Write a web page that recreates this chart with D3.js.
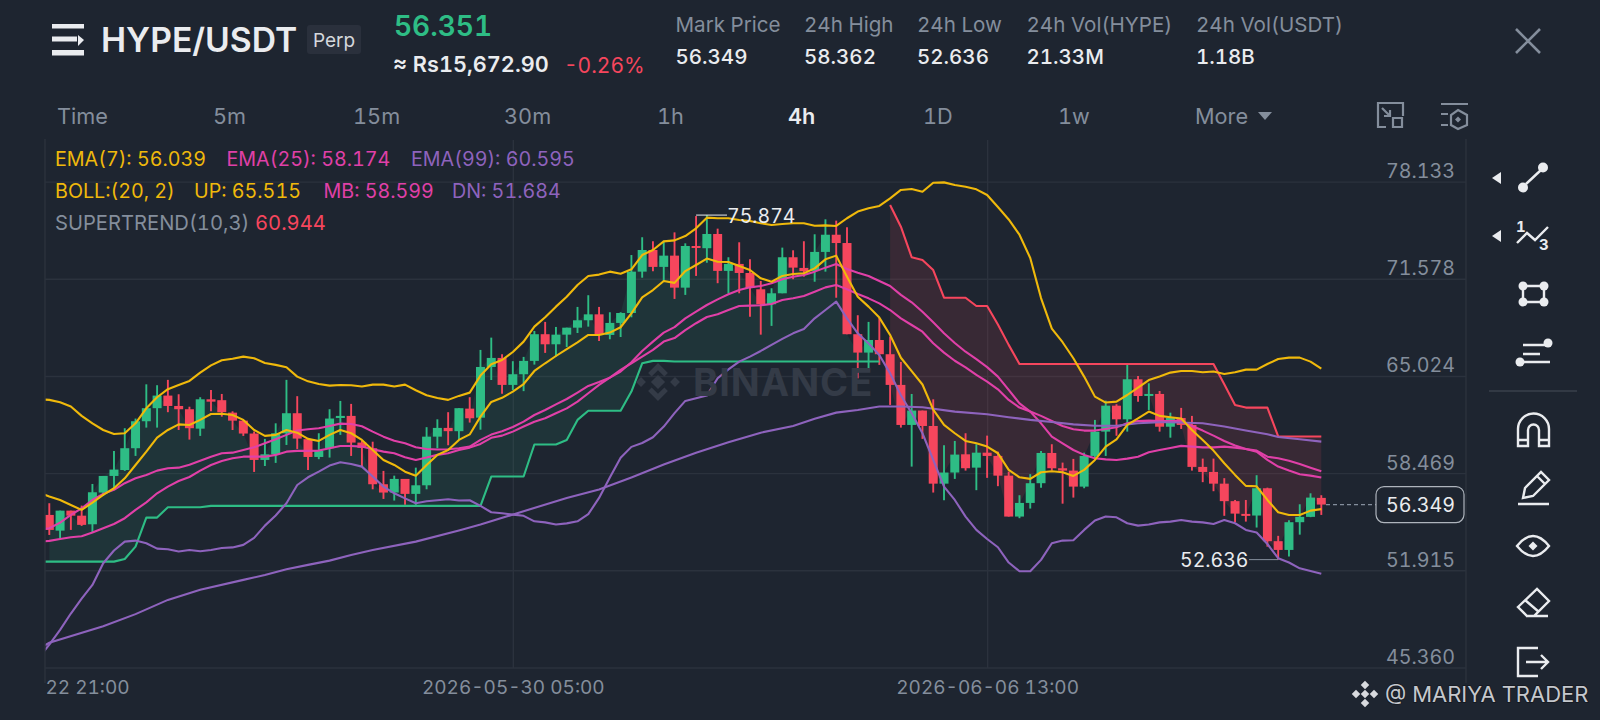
<!DOCTYPE html>
<html>
<head>
<meta charset="utf-8">
<script src="https://cdn.jsdelivr.net/npm/d3@7"></script>
<style>
  html, body { margin: 0; padding: 0; background: #1e2530; overflow: hidden; }
  svg { display: block; }
  text { font-family: "Inter", sans-serif; font-variant-numeric: tabular-nums; }
</style>
</head>
<body>
<div id="chart"></div>
<script>
// Candles, one per 4h bar
var opens = [55.65,54.59,55.94,55.60,55.02,57.16,58.28,58.68,60.15,61.97,
  62.85,63.70,63.00,62.78,61.47,63.45,63.39,62.55,62.01,61.14,
  59.36,59.74,61.16,62.51,60.76,59.56,60.15,62.19,62.33,60.53,
  60.15,57.72,57.16,58.08,57.07,57.65,60.93,61.52,61.30,62.82,
  62.21,65.63,66.24,64.42,65.14,66.04,67.84,67.16,67.81,68.28,
  68.78,69.18,67.79,68.60,69.27,72.06,73.52,72.38,73.14,70.98,
  73.79,73.64,74.60,72.11,72.58,71.97,70.87,69.86,70.60,73.03,
  72.31,72.11,73.39,74.55,73.99,67.84,66.60,67.45,66.49,64.42,
  61.72,62.69,61.65,57.76,58.51,59.74,58.84,59.85,59.63,58.30,
  55.54,56.46,57.79,59.83,58.80,58.64,57.56,59.63,61.27,63.02,
  62.10,64.80,63.70,63.81,61.60,62.19,61.72,58.89,58.55,57.76,
  56.58,55.72,55.61,57.45,53.88,53.29,55.16,55.52,56.80];
var highs = [56.44,55.94,55.94,56.28,57.74,58.28,59.97,61.50,62.15,64.46,
  64.40,64.76,63.79,62.95,63.59,64.08,63.81,62.64,62.06,61.27,
  60.78,61.83,64.76,63.66,60.80,61.16,62.78,63.34,63.14,60.66,
  60.59,58.62,58.30,58.08,58.84,61.57,62.10,62.58,62.85,63.59,
  66.78,67.61,66.49,66.02,66.31,68.06,68.67,68.33,68.28,69.68,
  70.47,69.68,69.32,69.32,73.18,74.38,74.11,74.15,74.71,73.97,
  75.81,75.874,74.96,73.03,74.04,72.89,71.43,70.94,73.68,73.50,
  74.11,74.58,75.59,75.50,75.05,69.12,68.67,68.93,67.67,65.97,
  63.81,62.69,63.45,60.35,60.64,61.16,60.42,61.00,59.92,58.57,
  56.98,58.40,59.97,60.42,59.18,59.43,59.85,62.06,63.36,63.12,
  65.77,65.02,64.53,64.01,62.55,62.87,62.33,59.45,59.45,58.13,
  56.66,56.66,58.33,57.49,54.24,55.30,56.37,57.11,56.98];
var lows = [54.30,54.08,54.64,54.91,54.49,56.93,57.38,58.62,59.63,61.54,
  61.54,62.58,61.38,60.73,60.98,62.64,62.28,61.38,60.98,58.55,
  58.95,59.16,60.37,60.10,58.68,59.41,59.52,61.05,59.63,58.91,
  57.38,56.73,56.62,56.33,56.33,57.38,60.15,60.35,60.71,61.88,
  61.40,64.75,63.83,64.08,64.00,65.79,66.58,66.33,66.98,67.92,
  68.35,67.38,67.50,67.65,68.98,71.65,72.08,71.43,70.22,70.49,
  71.77,72.66,71.28,70.60,70.60,69.02,67.81,68.40,70.60,71.55,
  71.72,71.38,72.06,70.30,67.84,64.86,65.34,65.77,63.07,61.54,
  58.91,60.78,57.16,56.64,58.08,58.64,57.32,58.15,57.59,55.54,
  55.43,56.08,57.49,58.64,56.41,56.82,57.45,59.36,59.63,60.99,
  61.27,63.29,62.73,61.27,60.86,61.45,58.64,57.86,57.25,55.59,
  55.16,55.20,54.80,53.51,52.636,52.84,54.32,55.50,55.65];
var closes = [54.64,55.94,55.60,54.98,57.18,58.28,58.71,60.15,61.97,62.85,
  63.70,63.00,62.78,61.50,63.45,63.29,62.58,62.01,61.14,59.36,
  59.74,61.16,62.51,60.80,59.56,59.99,62.15,62.33,60.53,60.17,
  57.72,57.16,58.08,57.07,57.65,60.93,61.52,61.30,62.85,62.17,
  65.63,66.24,64.42,65.14,66.04,67.84,67.16,67.81,68.28,68.78,
  69.18,67.84,68.60,69.27,72.06,73.52,72.38,73.14,70.98,73.79,
  73.68,74.60,72.11,72.58,71.97,70.96,69.86,70.60,73.03,72.33,
  72.09,73.39,74.55,73.99,67.84,66.60,67.45,66.49,64.42,61.72,
  62.69,61.65,57.76,58.51,59.72,58.80,59.85,59.63,58.30,55.54,
  56.46,57.79,59.83,58.80,58.64,57.56,59.63,61.27,63.02,62.10,
  64.80,63.67,63.81,61.60,62.19,61.72,58.89,58.55,57.76,56.58,
  55.74,55.59,57.45,53.88,53.29,55.16,55.52,56.82,56.349];

// Indicator lines, these start one bar before the first candle
var ema7 = [57.16,
  56.89,56.66,56.32,55.99,56.48,57.00,57.45,58.12,59.02,59.92,
  60.87,61.38,61.76,61.72,62.06,62.46,62.48,62.39,62.06,61.38,
  60.98,61.05,61.38,61.20,60.78,60.64,61.05,61.38,61.16,60.71,
  60.03,59.36,59.02,58.57,58.30,59.02,59.70,60.03,60.71,61.08,
  62.28,63.27,63.55,63.97,64.48,65.36,65.88,66.37,66.84,67.29,
  67.79,67.79,67.95,68.31,69.25,70.33,70.82,71.43,71.30,72.10,
  72.51,72.94,72.73,72.71,72.44,72.17,71.61,71.38,71.77,71.90,
  71.95,72.28,72.89,73.14,71.72,70.37,69.70,68.96,67.79,66.25,
  65.35,64.45,62.75,61.72,61.16,60.64,60.48,60.26,59.81,58.69,
  58.19,58.08,58.53,58.60,58.53,58.28,58.69,59.36,60.26,60.75,
  61.72,62.17,62.62,62.33,62.24,62.15,61.38,60.71,59.99,59.14,
  58.35,57.61,57.58,56.66,55.83,55.65,55.65,55.94,56.04];
var ema25 = [53.85,
  53.90,54.03,54.14,54.21,54.46,54.75,55.04,55.43,55.99,56.50,
  57.11,57.56,57.94,58.21,58.64,59.02,59.29,59.47,59.58,59.58,
  59.58,59.70,59.92,59.97,59.97,59.99,60.15,60.30,60.30,60.26,
  60.08,59.92,59.81,59.54,59.36,59.52,59.70,59.81,60.03,60.19,
  60.44,60.85,61.00,61.27,61.61,61.94,62.17,62.51,62.84,63.29,
  63.86,64.42,64.91,65.43,65.88,66.33,66.78,67.34,67.58,68.12,
  68.58,69.00,69.18,69.47,69.74,69.77,69.79,69.88,70.15,70.26,
  70.42,70.71,71.00,71.16,70.87,70.55,70.26,69.92,69.47,68.91,
  68.46,68.01,67.23,66.60,66.05,65.60,65.09,64.64,64.12,63.41,
  62.89,62.62,62.33,61.99,61.65,61.43,61.34,61.34,61.45,61.56,
  61.83,61.99,62.01,61.99,61.99,62.01,61.65,61.34,61.00,60.64,
  60.33,60.10,59.92,59.36,58.91,58.64,58.39,58.30,58.17];
var mb = [54.64,
  54.75,55.13,55.65,56.10,56.66,57.07,57.34,57.79,58.12,58.35,
  58.64,58.80,58.84,59.04,59.31,59.58,59.81,59.85,60.03,60.21,
  60.48,60.75,61.05,61.34,61.43,61.50,61.65,61.81,61.78,61.63,
  61.27,60.93,60.66,60.48,60.21,60.10,60.06,60.08,60.15,60.26,
  60.71,61.07,61.29,61.58,61.94,62.39,62.73,63.11,63.47,63.90,
  64.35,64.62,64.91,65.32,65.95,66.71,67.34,67.95,68.32,68.91,
  69.36,69.81,70.19,70.53,70.82,71.00,71.09,71.27,71.54,71.72,
  71.83,72.06,72.33,72.58,72.24,71.99,71.77,71.43,71.09,70.49,
  69.99,69.36,68.64,67.90,67.25,66.66,66.16,65.62,64.98,64.08,
  63.18,62.62,61.83,60.93,60.48,60.03,59.70,59.47,59.40,59.36,
  59.45,59.58,59.88,60.03,60.17,60.31,60.26,60.21,60.21,60.26,
  60.19,60.10,59.99,59.58,59.47,59.31,59.09,58.84,58.60];
var bollUp = [63.45,
  63.41,63.25,62.96,62.33,61.83,61.38,61.11,61.16,61.83,62.84,
  63.59,64.13,64.42,64.69,65.25,65.74,66.08,66.19,66.33,66.22,
  65.90,65.77,65.61,64.98,64.66,64.48,64.37,64.41,64.40,64.31,
  64.44,64.44,64.31,64.44,64.06,63.72,63.54,63.41,63.68,63.90,
  65.05,65.81,66.10,66.64,67.34,68.35,68.98,69.70,70.37,71.16,
  71.77,71.86,72.06,71.92,72.22,73.18,73.52,74.10,74.17,74.46,
  74.98,75.70,75.66,75.66,75.54,75.48,75.32,75.21,75.27,75.32,
  75.32,75.16,75.18,75.14,75.66,76.11,76.33,76.49,77.00,77.57,
  77.63,77.45,78.06,78.08,77.90,77.79,77.61,77.23,76.42,75.58,
  74.55,72.98,70.28,68.22,67.30,66.22,64.98,63.63,63.23,63.29,
  63.74,64.24,64.75,64.98,65.25,65.36,65.36,65.27,65.32,65.16,
  65.27,65.45,65.45,65.83,66.17,66.26,66.26,65.99,65.515];
var bollDn = [46.00,
  46.90,47.90,49.00,50.00,50.93,52.39,53.25,53.85,53.92,53.74,
  53.38,53.34,53.18,53.29,53.20,53.29,53.42,53.46,53.63,54.10,
  54.93,55.61,56.44,57.67,58.19,58.57,58.98,59.20,59.08,58.91,
  58.24,57.56,57.11,56.77,56.44,56.57,56.64,56.71,56.62,56.64,
  56.26,55.83,55.76,55.67,55.59,55.22,55.15,55.01,55.08,55.22,
  55.70,56.80,58.18,59.50,60.24,60.50,60.89,61.61,62.52,63.34,
  63.52,63.70,64.87,65.47,65.99,66.33,66.71,67.12,67.52,67.90,
  68.19,68.91,69.47,70.04,68.91,67.90,67.22,66.44,65.20,63.72,
  62.51,61.16,59.36,57.56,56.66,55.54,54.64,54.03,53.47,52.44,
  51.85,51.85,52.62,53.74,53.92,53.94,54.64,55.27,55.54,55.49,
  55.09,54.93,55.00,55.15,55.20,55.31,55.20,55.15,55.04,55.31,
  55.09,54.64,54.46,53.69,52.73,52.44,52.05,51.87,51.684];

// EMA(99) is read only at these bars
var ema99Bars = [-1,0,5,8,11,14,18,20,22,24,26,28,29,30,34,38,40,44,48,51,54,57,60,63,66,69,71,73,75,77,79,81,84,87,89,91,93,95,97,99,101,103,104,107,109,111,113,114,116,118];
var ema99 = [46.60,47.03,48.14,48.96,49.92,50.61,51.27,51.60,51.99,52.28,52.57,52.95,53.11,53.28,53.85,54.60,55.00,55.90,56.80,57.36,58.18,59.05,59.85,60.55,61.20,61.65,62.13,62.55,62.73,62.96,62.96,62.91,62.62,62.44,62.24,62.06,61.92,61.76,61.67,61.67,61.83,61.90,61.90,61.83,61.61,61.34,61.09,60.91,60.75,60.595];

// Supertrend, first the long leg from bar -1, then the short leg from bar 78
var superUp = [52.50,
  52.50,52.50,52.50,52.50,52.50,52.50,52.50,52.68,53.51,55.47,
  55.47,56.17,56.17,56.17,56.17,56.26,56.26,56.26,56.26,56.26,
  56.26,56.26,56.26,56.26,56.26,56.26,56.26,56.26,56.26,56.26,
  56.26,56.26,56.26,56.26,56.26,56.26,56.26,56.26,56.26,56.26,
  56.26,58.24,58.24,58.24,58.24,60.40,60.40,60.40,60.71,62.06,
  62.68,62.68,62.68,62.68,63.97,65.88,66.04,66.04,66.00,66.00,
  66.00,66.00,66.00,66.00,66.00,66.00,66.00,66.00,66.00,66.00,
  66.00,66.00,66.00,66.00,66.00,66.00,66.00,66.00];
var superDown = [76.55,75.09,73.03,72.85,72.17,70.30,70.30,70.30,69.74,69.74,
  68.50,67.12,65.83,65.83,65.83,65.83,65.83,65.83,65.83,65.83,
  65.83,65.83,65.83,65.83,65.83,65.83,65.83,65.83,65.83,65.83,
  65.83,64.46,63.07,62.89,62.89,62.89,60.944,60.944,60.944,60.944,60.944];

var priceTicks = [45.360, 51.915, 58.469, 65.024, 71.578, 78.133];
var timeTickBars = [-1, 43, 87];
var timeTickLabels = ["22 21:00", "2026-05-30 05:00", "2026-06-06 13:00"];
var tabs = ["Time", "5m", "15m", "30m", "1h", "4h", "1D", "1w", "More"];
var statLabels = ["Mark Price", "24h High", "24h Low", "24h Vol(HYPE)", "24h Vol(USDT)"];
var statValues = ["56.349", "58.362", "52.636", "21.33M", "1.18B"];

var colors = {
  bg: "#1e2530", grid: "#2b323d", axis: "#848e9c", white: "#eaecef",
  up: "#2ebd85", down: "#f6465d", yellow: "#f0b90b", pink: "#e040a8", purple: "#8e63bd"
};

var svgWidth = 1600;
var svgHeight = 720;
var plot = { left: 45, right: 1466, top: 140, bottom: 668 };

var svg = d3.select("#chart").append("svg")
  .attr("width", svgWidth)
  .attr("height", svgHeight)
  .style("background", colors.bg);

svg.append("defs").append("clipPath").attr("id", "plotClip")
  .append("rect")
  .attr("x", plot.left).attr("y", 0)
  .attr("width", plot.right - plot.left).attr("height", svgHeight);

var xScale = d3.scaleLinear().domain([0, 118]).range([49.3, 1321.3]);
var yScale = d3.scaleLinear().domain([45.36, 78.133]).range([667.5, 181.6]);

var chartGroup = svg.append("g").attr("clip-path", "url(#plotClip)");

// Axes carry the grid lines as long ticks
var yAxis = d3.axisRight(yScale)
  .tickValues(priceTicks)
  .tickFormat(d3.format(".3f"))
  .tickSize(plot.right - plot.left);
var yAxisG = chartGroup.append("g")
  .attr("transform", `translate(${plot.left}, 0)`)
  .call(yAxis);
var xAxis = d3.axisBottom(xScale)
  .tickValues(timeTickBars)
  .tickFormat((d, i) => timeTickLabels[i])
  .tickSize(plot.top - plot.bottom)
  .tickPadding(0);
var xAxisG = chartGroup.append("g")
  .attr("transform", `translate(0, ${plot.bottom})`)
  .call(xAxis);
yAxisG.select(".domain").remove();
xAxisG.select(".domain").remove();
yAxisG.selectAll("line").attr("stroke", colors.grid).attr("stroke-width", 1.4);
xAxisG.selectAll("line").attr("stroke", colors.grid).attr("stroke-width", 1.4);
yAxisG.selectAll("text")
  .attr("x", 1386 - plot.left)
  .attr("y", -4).attr("dy", 0)
  .attr("text-anchor", "start")
  .attr("fill", colors.axis).style("font-size", "19.7px");
xAxisG.selectAll("text")
  .attr("y", 26).attr("dy", 0)
  .attr("fill", colors.axis).style("font-size", "19px");
// the first label sits against the left edge of the plot
xAxisG.selectAll("text").filter((d, i) => i === 0)
  .attr("text-anchor", "start").attr("x", plot.left - xScale(timeTickBars[0]));

// frame lines of the plot
[plot.left, plot.right].forEach(d => {
  svg.append("line").attr("x1", d).attr("x2", d)
    .attr("y1", 139).attr("y2", 683)
    .attr("stroke", colors.grid).attr("stroke-width", 1.4);
});

// Supertrend fills run between the line and the close
var barIdx = d3.range(opens.length);
var fillUp = d3.area()
  .x(d => xScale(d))
  .y0(d => yScale(superUp[d + 1]))
  .y1(d => yScale(closes[d]));
var fillDown = d3.area()
  .x(d => xScale(d))
  .y0(d => yScale(superDown[d - 78]))
  .y1(d => yScale(closes[d]));
chartGroup.append("path").datum(barIdx.filter(d => d <= 77))
  .attr("d", fillUp).attr("fill", colors.up).attr("fill-opacity", 0.1);
chartGroup.append("path").datum(barIdx.filter(d => d >= 78))
  .attr("d", fillDown).attr("fill", colors.down).attr("fill-opacity", 0.12);

// Watermark
var mark = svg.append("g").attr("transform", "translate(658, 382)").attr("fill", "#343b47");
mark.append("path").attr("transform", "translate(0, -9) rotate(45)").attr("d", "M-7,-7H7V-2H-2V7H-7Z");
mark.append("path").attr("transform", "translate(0, 9) rotate(225)").attr("d", "M-7,-7H7V-2H-2V7H-7Z");
mark.append("path").attr("transform", "translate(-17, 0) rotate(45)").attr("d", "M-3.5,-3.5H3.5V3.5H-3.5Z");
mark.append("path").attr("transform", "translate(17, 0) rotate(45)").attr("d", "M-3.5,-3.5H3.5V3.5H-3.5Z");
mark.append("path").attr("transform", "rotate(45)").attr("d", "M-5,-5H5V5H-5Z");
svg.append("text").attr("x", 693).attr("y", 396).text("BINANCE")
  .attr("fill", "#343b47").style("font-size", "38px").style("font-weight", 700)
  .style("letter-spacing", "1px");

// Candles
var candleW = 9;
var candles = chartGroup.selectAll(".candle").data(barIdx).enter().append("g").attr("class", "candle")
  .attr("fill", d => closes[d] >= opens[d] ? colors.up : colors.down)
  .attr("stroke", d => closes[d] >= opens[d] ? colors.up : colors.down);
candles.append("line")
  .attr("x1", d => xScale(d)).attr("x2", d => xScale(d))
  .attr("y1", d => yScale(highs[d])).attr("y2", d => yScale(lows[d]))
  .attr("stroke-width", 1.9);
candles.append("rect")
  .attr("x", d => xScale(d) - candleW / 2)
  .attr("width", candleW)
  .attr("y", d => yScale(Math.max(opens[d], closes[d])))
  .attr("height", d => Math.max(2, Math.abs(yScale(opens[d]) - yScale(closes[d]))))
  .attr("stroke", "none");

// Indicator lines
var seriesStroke = 2.1;
function drawSeries(values, startBar, color) {
  var line = d3.line().x((d, i) => xScale(i + startBar)).y(d => yScale(d));
  chartGroup.append("path").datum(values).attr("d", line)
    .attr("fill", "none").attr("stroke", color).attr("stroke-width", seriesStroke)
    .attr("stroke-linejoin", "round");
}
drawSeries(superUp, -1, colors.up);
drawSeries(superDown, 78, colors.down);
drawSeries(bollUp, -1, colors.yellow);
drawSeries(bollDn, -1, colors.purple);
drawSeries(mb, -1, colors.pink);
drawSeries(ema25, -1, colors.pink);
chartGroup.append("path").datum(ema99.map((d, i) => [ema99Bars[i], d]))
  .attr("d", d3.line().x(d => xScale(d[0])).y(d => yScale(d[1])))
  .attr("fill", "none").attr("stroke", colors.purple).attr("stroke-width", seriesStroke);
drawSeries(ema7, -1, colors.yellow);

// High and low markers
var highBar = highs.indexOf(d3.max(highs));
var lowBar = lows.indexOf(d3.min(lows));
svg.append("line")
  .attr("x1", xScale(highBar - 1)).attr("x2", 727)
  .attr("y1", yScale(highs[highBar])).attr("y2", yScale(highs[highBar]))
  .attr("stroke", colors.white).attr("stroke-width", 1);
svg.append("text").attr("x", 727).attr("y", yScale(highs[highBar]) + 8)
  .attr("fill", colors.white).style("font-size", "19.5px").text(highs[highBar].toFixed(3));
svg.append("line")
  .attr("x1", 1249).attr("x2", xScale(lowBar))
  .attr("y1", yScale(lows[lowBar])).attr("y2", yScale(lows[lowBar]))
  .attr("stroke", colors.axis).attr("stroke-width", 1);
svg.append("text").attr("x", 1180).attr("y", yScale(lows[lowBar]) + 7)
  .attr("fill", colors.white).style("font-size", "19.5px").text(lows[lowBar].toFixed(3));

// Last price tag
var lastY = yScale(closes[closes.length - 1]);
svg.append("line").attr("x1", 1326).attr("x2", 1376).attr("y1", lastY).attr("y2", lastY)
  .attr("stroke", colors.axis).attr("stroke-dasharray", "4,3").attr("stroke-width", 1.3);
svg.append("rect").attr("x", 1376).attr("y", lastY - 18).attr("width", 88).attr("height", 36).attr("rx", 8)
  .attr("fill", colors.bg).attr("stroke", "#aeb4bc").attr("stroke-width", 1.2);
svg.append("text").attr("x", 1386).attr("y", lastY + 7).attr("fill", colors.white)
  .style("font-size", "19.7px").text(closes[closes.length - 1].toFixed(3));

// Legend
function legendLine(y, size, parts) {
  parts.forEach(p => {
    svg.append("text").attr("x", p[0]).attr("y", y).attr("fill", p[2]).style("font-size", size + "px").text(p[1]);
  });
}
legendLine(166, 19.7, [[55, "EMA(7): 56.039", colors.yellow], [226.5, "EMA(25): 58.174", colors.pink], [411, "EMA(99): 60.595", colors.purple]]);
legendLine(198, 19.7, [[55, "BOLL:(20, 2)", colors.yellow], [194, "UP: 65.515", colors.yellow], [323.5, "MB: 58.599", colors.pink], [452, "DN: 51.684", colors.purple]]);
legendLine(230, 20.2, [[55, "SUPERTREND(10,3)", colors.axis], [255, "60.944", colors.down]]);

// Header
var head = svg.append("g");
head.append("rect").attr("x", 52).attr("y", 24).attr("width", 32).attr("height", 4.5).attr("fill", colors.white);
head.append("rect").attr("x", 52).attr("y", 36.5).attr("width", 25).attr("height", 5).attr("fill", colors.white);
head.append("rect").attr("x", 52).attr("y", 50).attr("width", 32).attr("height", 5.5).attr("fill", colors.white);
head.append("path").attr("d", "M78,35L84,40L78,46Z").attr("fill", colors.white);
head.append("text").attr("x", 101).attr("y", 52).attr("fill", colors.white)
  .style("font-size", "33.7px").style("font-weight", 600).text("HYPE/USDT");
head.append("rect").attr("x", 307).attr("y", 25).attr("width", 54).attr("height", 29).attr("rx", 3).attr("fill", "#2a303c");
head.append("text").attr("x", 313).attr("y", 47).attr("fill", "#d5d8dc").style("font-size", "19px").text("Perp");
head.append("text").attr("x", 394).attr("y", 36).attr("fill", colors.up)
  .style("font-size", "28px").style("font-weight", 600).text("56.351");
head.append("text").attr("x", 393).attr("y", 72).attr("fill", colors.white)
  .style("font-size", "21.7px").style("font-weight", 600).text("≈ Rs15,672.90");
head.append("text").attr("x", 564).attr("y", 73).attr("fill", colors.down)
  .style("font-size", "21px").text("-0.26%");

var statX = [675.5, 804, 917, 1026.5, 1196];
statLabels.forEach((d, i) => {
  head.append("text").attr("x", statX[i]).attr("y", 32).attr("fill", colors.axis).style("font-size", "20.6px").text(d);
  head.append("text").attr("x", statX[i]).attr("y", 64).attr("fill", colors.white)
    .style("font-size", "20.5px").style("font-weight", 500).text(statValues[i]);
});
head.append("path").attr("d", "M1516,29L1540,53M1540,29L1516,53").attr("stroke", colors.axis).attr("stroke-width", 2.6).attr("fill", "none");

// Interval tabs
var tabX = [57, 213, 353, 504, 657, 788, 923, 1058, 1195];
tabs.forEach((d, i) => {
  head.append("text").attr("x", tabX[i]).attr("y", 124)
    .attr("fill", d === "4h" ? colors.white : colors.axis)
    .style("font-size", "21.7px").style("font-weight", d === "4h" ? 600 : 400).text(d);
});
head.append("path").attr("d", "M1258,112H1272L1265,120Z").attr("fill", colors.axis);

// Small toolbar icons next to the tabs
var grey = { fill: "none", stroke: colors.axis, "stroke-width": 2.2 };
function icon(d, attrs) {
  var p = svg.append("path").attr("d", d);
  Object.keys(attrs).forEach(k => p.attr(k, attrs[k]));
  return p;
}
icon("M1389,103H1403V116M1386,127H1378V103H1389M1382,108L1390,116M1384,116H1390V110", grey);
icon("M1393,118h9v9h-9Z", grey);
icon("M1441,104H1468M1441,114H1448M1441,125H1448M1458,110L1467,115V125L1458,129L1451,125V115Z", grey);
icon("M1458,116.5l3,3l-3,3l-3,-3Z", { fill: colors.axis });

// Drawing tools on the right
var tool = { fill: "none", stroke: "#eaecef", "stroke-width": 2.4 };
icon("M1492,178L1501,172V184Z", { fill: colors.white });
icon("M1492,236L1501,230V242Z", { fill: colors.white });
icon("M1526,184L1541,170", tool);
svg.append("circle").attr("cx", 1523).attr("cy", 187.5).attr("r", 5).attr("fill", colors.white);
svg.append("circle").attr("cx", 1543).attr("cy", 167.5).attr("r", 5).attr("fill", colors.white);
icon("M1517,243L1527,233L1535,240L1548,227", tool);
svg.append("text").attr("x", 1516).attr("y", 232).attr("fill", colors.white).style("font-size", "15px").style("font-weight", 700).text("1");
svg.append("text").attr("x", 1539).attr("y", 250).attr("fill", colors.white).style("font-size", "15px").style("font-weight", 700).text("3");
icon("M1523,286H1544V302H1523Z", tool);
[[1523, 286], [1544, 286], [1523, 302], [1544, 302]].forEach(p => {
  svg.append("circle").attr("cx", p[0]).attr("cy", p[1]).attr("r", 4.5).attr("fill", colors.white);
});
icon("M1523,345H1546M1523,354H1540M1523,362H1550", tool);
svg.append("circle").attr("cx", 1520).attr("cy", 362).attr("r", 4.5).attr("fill", colors.white);
svg.append("circle").attr("cx", 1548).attr("cy", 343).attr("r", 4.5).attr("fill", colors.white);
svg.append("line").attr("x1", 1489).attr("x2", 1577).attr("y1", 391).attr("y2", 391).attr("stroke", "#3a404b").attr("stroke-width", 1.6);
// magnet
icon("M1518,446V429A15.5,15.5 0 0 1 1549,429V446H1539V430A5.5,5.5 0 0 0 1528,430V446ZM1518,440H1528M1539,440H1549", tool);
// pencil
icon("M1518,504H1549M1523,498L1525,488L1541,472L1549,480L1533,496ZM1537,476L1545,484", tool);
// eye
icon("M1517,546Q1533,526 1549,546Q1533,566 1517,546Z", tool);
icon("M1533,541.5l4.5,4.5l-4.5,4.5l-4.5,-4.5Z", { fill: colors.white });
// eraser
icon("M1526,616H1548M1518,607L1537,589L1549,601L1534,616H1527ZM1525,600L1539,612", tool);
// exit
icon("M1538,648H1518V676H1538M1526,662H1548M1541,655L1548,662L1541,669", tool);

// Watermark in the corner
svg.append("text").attr("x", 1385).attr("y", 702).attr("fill", "#c5c8cd").style("font-size", "22px")
  .style("paint-order", "stroke").attr("stroke", "#14181f").attr("stroke-width", 1.5).text("@ MARIYA TRADER");
var corner = svg.append("g").attr("transform", "translate(1365, 694)").attr("fill", "#d8dade");
[[0, -9], [-9, 0], [9, 0], [0, 9], [0, 0]].forEach(p => {
  corner.append("rect").attr("x", -3).attr("y", -3).attr("width", 6).attr("height", 6)
    .attr("transform", `translate(${p[0]}, ${p[1]}) rotate(45)`);
});
</script>
</body>
</html>
